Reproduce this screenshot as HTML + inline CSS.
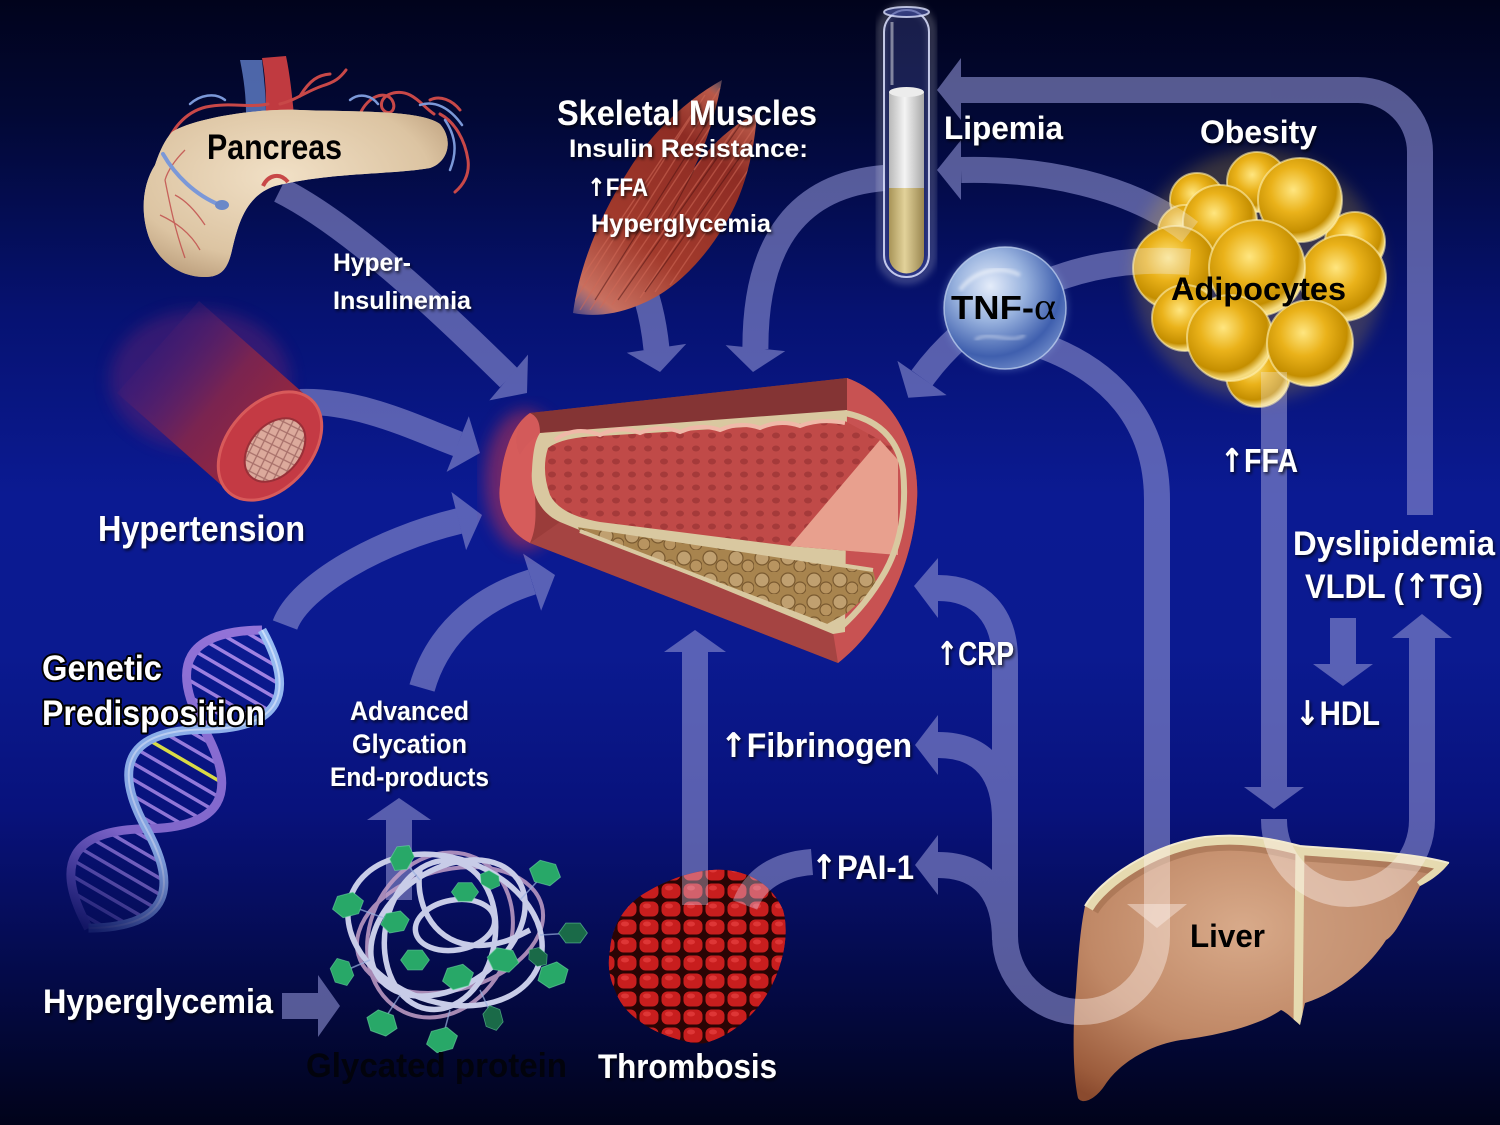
<!DOCTYPE html>
<html><head><meta charset="utf-8">
<style>
html,body{margin:0;padding:0;background:#01031c;width:1500px;height:1125px;overflow:hidden}
svg{display:block}
.t{font-family:"Liberation Sans",Arial,sans-serif;font-weight:bold;fill:#fff}
.k{fill:#000}
.ar{font-family:"DejaVu Sans",sans-serif;font-weight:bold}
</style></head><body>
<svg width="1500" height="1125" viewBox="0 0 1500 1125" xmlns="http://www.w3.org/2000/svg">
<defs>
 <linearGradient id="bg" x1="0" y1="0" x2="0" y2="1">
  <stop offset="0" stop-color="#01031c"/>
  <stop offset=".1" stop-color="#020834"/>
  <stop offset=".28" stop-color="#061272"/>
  <stop offset=".44" stop-color="#0b1a92"/>
  <stop offset=".58" stop-color="#0b1a90"/>
  <stop offset=".72" stop-color="#08127c"/>
  <stop offset=".87" stop-color="#040a48"/>
  <stop offset="1" stop-color="#01031a"/>
 </linearGradient>
 <filter id="sh" x="-10%" y="-20%" width="120%" height="150%"><feDropShadow dx="1.5" dy="2" stdDeviation="1.5" flood-color="#000" flood-opacity=".75"/></filter>
 <filter id="blur8"><feGaussianBlur stdDeviation="8"/></filter>
 <filter id="blur4"><feGaussianBlur stdDeviation="4"/></filter>
 <filter id="blur2"><feGaussianBlur stdDeviation="1.5"/></filter>
 <radialGradient id="panc" cx=".45" cy=".4" r=".7">
  <stop offset="0" stop-color="#f1e0c6"/><stop offset=".7" stop-color="#dcc4a2"/><stop offset="1" stop-color="#b89a78"/>
 </radialGradient>
 <pattern id="pancTex" width="16" height="14" patternUnits="userSpaceOnUse">
  <ellipse cx="5" cy="5" rx="4.5" ry="3.5" fill="none" stroke="#b39774" stroke-opacity=".45" stroke-width="1.2"/>
  <ellipse cx="13" cy="11" rx="4" ry="3" fill="none" stroke="#b39774" stroke-opacity=".45" stroke-width="1.2"/>
 </pattern>
 <linearGradient id="musc" x1="573" y1="313" x2="740" y2="90" gradientUnits="userSpaceOnUse">
  <stop offset="0" stop-color="#e8b0a0" stop-opacity=".3"/><stop offset=".1" stop-color="#c87060"/><stop offset=".35" stop-color="#a23a2c"/><stop offset=".75" stop-color="#8e2c24"/><stop offset=".93" stop-color="#b85848"/><stop offset="1" stop-color="#e0b0a0" stop-opacity=".2"/>
 </linearGradient>
 <linearGradient id="tubeBody" x1="300" y1="450" x2="150" y2="330" gradientUnits="userSpaceOnUse">
  <stop offset="0" stop-color="#a02838"/><stop offset=".5" stop-color="#7a2450"/><stop offset="1" stop-color="#5a2070" stop-opacity="0"/>
 </linearGradient>
 <pattern id="mesh" width="12" height="12" patternUnits="userSpaceOnUse" patternTransform="rotate(30)">
  <rect width="12" height="12" fill="#dcaa9c"/>
  <path d="M0 0L12 12M12 0L0 12" stroke="#a8706a" stroke-width="1.3"/>
 </pattern>
 <pattern id="lum" width="16" height="13" patternUnits="userSpaceOnUse">
  <rect width="16" height="13" fill="#c04a48"/>
  <ellipse cx="8" cy="6.5" rx="4" ry="3" fill="#8e2e30" opacity=".55"/>
 </pattern>
 <pattern id="plq" width="26" height="22" patternUnits="userSpaceOnUse">
  <rect width="26" height="22" fill="#a8844e"/>
  <circle cx="8" cy="8" r="7" fill="#c0a070" stroke="#7a5a30" stroke-width="1.2"/>
  <circle cx="20" cy="16" r="6" fill="#b89460" stroke="#7a5a30" stroke-width="1.2"/>
 </pattern>
 <pattern id="thr" width="22" height="18" patternUnits="userSpaceOnUse">
  <rect width="22" height="18" fill="#2a0404"/>
  <rect x="1.5" y="1.5" width="19" height="15" rx="6" fill="#c81e1e"/>
  <ellipse cx="9" cy="6" rx="4" ry="2.5" fill="#e84040" opacity=".7"/>
 </pattern>
 <radialGradient id="thrShade" cx=".45" cy=".4" r=".65">
  <stop offset="0" stop-color="#000" stop-opacity="0"/><stop offset=".8" stop-color="#000" stop-opacity=".25"/><stop offset="1" stop-color="#000" stop-opacity=".55"/>
 </radialGradient>
 <radialGradient id="gold" cx=".42" cy=".38" r=".6">
  <stop offset="0" stop-color="#ffe680"/><stop offset=".45" stop-color="#eab21a"/><stop offset=".85" stop-color="#c48e00"/><stop offset="1" stop-color="#f6dc80"/>
 </radialGradient>
 <radialGradient id="tnf" cx=".38" cy=".32" r=".72">
  <stop offset="0" stop-color="#e4ecfa"/><stop offset=".4" stop-color="#98b2de"/><stop offset=".8" stop-color="#3f5fae"/><stop offset="1" stop-color="#6a86c6"/>
 </radialGradient>
 <radialGradient id="liv" cx=".45" cy=".35" r=".75">
  <stop offset="0" stop-color="#d8aa8a"/><stop offset=".55" stop-color="#c08866"/><stop offset=".9" stop-color="#9c5c3c"/><stop offset="1" stop-color="#8a4a2e"/>
 </radialGradient>
 <linearGradient id="wht" x1="0" x2="1"><stop offset="0" stop-color="#b8b8b8"/><stop offset=".45" stop-color="#f4f4f4"/><stop offset="1" stop-color="#a8a8a8"/></linearGradient>
 <linearGradient id="yel" x1="0" x2="1"><stop offset="0" stop-color="#a89458"/><stop offset=".45" stop-color="#e2d29a"/><stop offset="1" stop-color="#9a8650"/></linearGradient>
 <linearGradient id="dnaFade" x1="0" y1="0" x2="345" y2="0" gradientUnits="userSpaceOnUse">
  <stop offset="0" stop-color="#fff" stop-opacity="1"/><stop offset=".7" stop-color="#fff" stop-opacity=".85"/><stop offset="1" stop-color="#fff" stop-opacity=".1"/>
 </linearGradient>
 <mask id="dnaMask" maskUnits="userSpaceOnUse" x="-20" y="-80" width="400" height="160"><rect x="-20" y="-80" width="400" height="160" fill="url(#dnaFade)"/></mask>
 <clipPath id="dnaClip"><path d="M0,0 Q57.5,-96 115,0 Q172.5,96 230,0 Q287.5,-96 345,0 Q287.5,96 230,0 Q172.5,-96 115,0 Q57.5,96 0,0Z"/></clipPath>
 <clipPath id="liverClip"><path id="liverP" d="M1085,906 C1100,880 1150,845 1205,837 C1240,833 1270,838 1300,846 C1350,850 1410,852 1449,863 C1440,875 1428,882 1420,886 C1405,915 1395,935 1386,940 C1370,965 1340,992 1305,1003 L1300,1025 C1292,1018 1286,1012 1281,1010 C1260,1025 1220,1035 1181,1040 C1150,1045 1120,1062 1105,1085 C1095,1100 1082,1105 1078,1098 C1072,1070 1073,1020 1076,990 C1078,960 1080,930 1085,906Z"/></clipPath>
 <clipPath id="thrClip"><path d="M610,950 C612,925 625,905 645,893 C670,878 700,868 725,870 C750,872 772,885 783,910 C790,935 782,965 772,985 C760,1010 735,1035 705,1043 C690,1045 660,1035 645,1025 C630,1015 620,1005 615,990 C608,975 608,962 610,950Z"/></clipPath>
 <clipPath id="adiClip">
  <circle cx="1258" cy="375" r="32"/><circle cx="1197" cy="200" r="27"/><circle cx="1185" cy="232" r="27"/><circle cx="1257" cy="182" r="30"/><circle cx="1355" cy="242" r="30"/><circle cx="1300" cy="200" r="42"/><circle cx="1220" cy="222" r="37"/><circle cx="1343" cy="278" r="43"/><circle cx="1175" cy="268" r="42"/><circle cx="1185" cy="318" r="33"/><circle cx="1257" cy="268" r="48"/><circle cx="1230" cy="338" r="43"/><circle cx="1310" cy="343" r="43"/>
 </clipPath>
 <clipPath id="muscClip"><path id="muscP" d="M573,313 C580,262 602,212 630,168 C655,128 690,98 722,80 C716,112 706,145 694,168 C710,146 732,125 757,113 C754,158 742,198 724,226 C706,256 680,285 650,300 C624,313 598,318 573,313Z"/></clipPath>
 <polygon id="hex" points="-16,0 -8,-11 8,-11 16,0 8,11 -8,11"/>
</defs>

<!-- background -->
<rect width="1500" height="1125" fill="url(#bg)"/>

<!-- ARROWS -->
<g opacity=".62">
 <g fill="none" stroke="#8a8dce" stroke-width="26">
  <path d="M280,190 C350,225 440,310 509,378"/>
  <path d="M300,402 C360,400 415,428 458,444"/>
  <path d="M285,625 C300,585 380,540 459,521"/>
  <path d="M422,688 C440,625 490,595 532,582"/>
  <path d="M638,275 Q652,305 656.5,349"/>
  <path d="M884,178 C800,185 755,240 755.4,349"/>
  <path d="M1420,515 L1420,152 A62,62 0 0 0 1358,90 L961,90"/>
  <path d="M1190,232 C1130,185 1040,168 961,170"/>
  <path d="M1190,262 C1050,250 960,325 922,378"/>
  <path d="M1040,345 C1110,370 1157,420 1157,500 L1157,905"/>
  <path d="M1157,936 A76,76 0 0 1 1005,936 L1005,660 C1005,615 980,588 938,588"/>
  <path d="M938,745 C985,745 1005,775 1005,820"/>
  <path d="M938,865 C985,865 1005,895 1005,940"/>
  <path d="M745,905 Q760,866 812,862"/>
  <path d="M695,905 L695,651"/>
  <path d="M1274,372 L1274,788"/>
  <path d="M1274,819 L1274,820 A74,74 0 0 0 1422,820 L1422,637"/>
  <path d="M1343,618 L1343,665"/>
  <path d="M282,1006 L319,1006"/>
  <path d="M399,900 L399,819"/>
 </g>
 <g fill="#8a8dce">
  <polygon points="528,354.6 527,393 489.3,400.4"/>
  <polygon points="468.8,416.3 480,453 446.6,471.9"/>
  <polygon points="451.3,491.9 482,515 466.1,550.1"/>
  <polygon points="523.1,553.6 555,575 541.1,610.8"/>
  <polygon points="626.8,352.7 660,372 686.2,343.9"/>
  <polygon points="725.6,345.1 753,372 785.2,351.1"/>
  <polygon points="961,58 937,90 961,120"/>
  <polygon points="961,140 937,170 961,200"/>
  <polygon points="946.6,395.1 908.3,397.7 897.4,360.9"/>
  <polygon points="1127,904 1157,928 1187,904"/>
  <polygon points="938,558 914,586 938,618"/>
  <polygon points="938,715 915,745 938,775"/>
  <polygon points="938,835 915,865 938,895"/>
  <polygon points="664,652 695,630 726,652"/>
  <polygon points="1244,787 1274,809 1304,787"/>
  <polygon points="1392,638 1422,614 1452,638"/>
  <polygon points="1313,664 1343,686 1373,664"/>
  <polygon points="318,975 340,1006 318,1037"/>
  <polygon points="367,820 399,798 431,820"/>
 </g>
</g>

<!-- PANCREAS vessels behind -->
<g>
 <path d="M240,60 C244,80 246,96 246,115 L266,115 C266,95 264,78 262,60Z" fill="#5a78c0" opacity=".85"/>
 <path d="M262,58 C266,80 266,96 266,115 L294,115 C292,95 290,75 286,56Z" fill="#c03a40"/>
 <g fill="none" stroke="#c84848" stroke-width="3" stroke-linecap="round">
  <path d="M163,154 C170,130 185,112 206,107 C230,102 250,108 268,104"/>
  <path d="M280,104 C296,100 305,92 322,86 C335,82 340,78 346,70"/>
  <path d="M300,96 C310,80 318,75 330,74"/>
  <path d="M360,114 C368,96 385,90 392,100 C398,110 388,118 382,108 C378,96 396,88 410,95 C420,100 425,108 434,114"/>
  <path d="M440,114 C455,122 465,140 468,160 C470,176 462,186 455,192"/>
  <path d="M430,100 C440,95 452,100 460,110"/>
 </g>
 <g fill="none" stroke="#7b98d8" stroke-width="2.5" stroke-linecap="round">
  <path d="M190,104 C200,95 215,92 225,100"/>
  <path d="M420,105 C435,100 450,108 462,125"/>
  <path d="M445,120 C455,135 458,150 450,170"/>
  <path d="M350,100 C360,92 372,96 378,104"/>
 </g>
</g>
<!-- PANCREAS -->
<g>
 <path id="pancP" d="M172,132 C190,120 250,108 300,110 C360,112 420,110 440,124 C454,140 448,162 430,168 C390,175 330,172 275,186 C245,196 238,225 232,250 C228,268 222,277 205,277 C180,277 160,262 150,240 C140,215 142,185 155,165 C160,150 165,140 172,132Z" fill="url(#panc)"/>
 <use href="#pancP" fill="url(#pancTex)"/>
 <g fill="none" stroke="#c04848" stroke-width="1.3" opacity=".8">
  <path d="M165,180 C170,205 175,230 185,258"/><path d="M160,215 C175,222 190,232 200,250"/><path d="M175,195 C185,200 195,210 205,225"/><path d="M185,150 C175,160 168,170 165,180"/>
 </g>
 <path d="M163,154 C175,175 195,195 220,205" fill="none" stroke="#7b98d8" stroke-width="4" stroke-linecap="round"/>
 <ellipse cx="222" cy="205" rx="7" ry="5" fill="#6a88c8"/>
 <path d="M263,186 C268,175 280,172 288,182" fill="none" stroke="#c84848" stroke-width="4"/>
</g>

<!-- MUSCLE -->
<g>
 <use href="#muscP" fill="url(#musc)"/>
 <g clip-path="url(#muscClip)" stroke="#d06a58" stroke-width="1.4" opacity=".55" fill="none">
  <path d="M580,310 L720,88"/><path d="M590,310 L728,100"/><path d="M600,308 L735,110"/><path d="M612,305 L742,118"/><path d="M625,302 L750,120"/><path d="M640,298 L756,125"/><path d="M575,300 L705,95"/><path d="M580,280 L698,105"/><path d="M655,292 L750,150"/><path d="M670,285 L755,160"/>
 </g>
 <g clip-path="url(#muscClip)" stroke="#4a1010" stroke-width="1.2" opacity=".5" fill="none">
  <path d="M595,300 L715,110"/><path d="M618,300 L740,125"/><path d="M645,292 L752,140"/><path d="M694,170 L662,230"/>
 </g>
</g>

<!-- HYPERTENSION tube -->
<g>
 <ellipse cx="200" cy="380" rx="90" ry="70" fill="#6a2270" opacity=".45" filter="url(#blur8)"/>
 <polygon points="311,400 229,492 117,393 199,301" fill="url(#tubeBody)"/>
 <ellipse cx="270" cy="446" rx="62" ry="42" transform="rotate(-48.6 270 446)" fill="#c43a44"/>
 <ellipse cx="270" cy="446" rx="62" ry="42" transform="rotate(-48.6 270 446)" fill="none" stroke="#d85a5a" stroke-width="3"/>
 <ellipse cx="275" cy="450" rx="36" ry="25" transform="rotate(-48.6 275 450)" fill="url(#mesh)"/>
 <ellipse cx="275" cy="450" rx="36" ry="25" transform="rotate(-48.6 275 450)" fill="none" stroke="#9a3038" stroke-width="2"/>
</g>

<!-- ARTERY -->
<g>
 <ellipse cx="525" cy="480" rx="40" ry="70" fill="#c03050" opacity=".55" filter="url(#blur8)"/>
 <path d="M530,413 L847,378 C895,395 920,450 917,500 C913,570 880,630 838,663 L530,543 C505,530 497,505 500,485 C502,455 512,425 530,413Z" fill="#9a3c3a"/>
 <path d="M530,413 L847,378 L847,412 L545,432 C535,436 525,445 520,455 C512,440 518,420 530,413Z" fill="#843434"/>
 <path d="M500,485 C502,455 512,425 530,413 C545,420 540,440 535,470 C533,500 540,520 530,543 C505,530 497,505 500,485Z" fill="#e06262" opacity=".85"/>
 <path d="M530,543 L838,663 L840,630 L560,522Z" fill="#a54442"/>
 <path d="M847,378 C895,395 920,450 917,500 C913,570 880,630 838,663 L833,632 L847,412Z" fill="#c85252"/>
 <path d="M540,433 L847,410 L845,632 L833,634 L560,522 C538,512 530,490 532,470 C533,452 535,440 540,433Z" fill="#d9c8a0"/>
 <path d="M548,448 Q562,437 600,436 L845,421 L893,447 L898,555 L790,546 L600,522 Q560,515 550,495 Q541,470 548,448Z" fill="url(#lum)"/>
 <path d="M880,440 L898,460 L898,555 L790,546Z" fill="#e8a08e"/>
 <path d="M555,440 Q575,425 600,435 Q620,425 640,433 Q660,424 680,432 Q700,423 720,430 Q740,421 760,428 Q780,419 800,426 Q820,418 845,423" fill="none" stroke="#f0b8a8" stroke-width="4"/>
 <path d="M577,525 L873,570 L877,587 L847,613 L827,624 L580,532Z" fill="url(#plq)"/>
 <path d="M577,525 L873,570" stroke="#d9c8a0" stroke-width="4"/>
 <path d="M580,531 L827,626" stroke="#d9c8a0" stroke-width="4"/>
 <path d="M845,413 C880,420 898,440 903,470 C907,510 900,545 885,572 C872,595 858,612 840,628" fill="none" stroke="#d9c8a0" stroke-width="6"/>
</g>

<!-- TEST TUBE -->
<g>
 <rect x="881" y="7" width="51" height="273" rx="25" fill="none" stroke="#ffffff" stroke-width="6" opacity=".3" filter="url(#blur4)"/>
 <rect x="884" y="10" width="45" height="267" rx="22" fill="#5a66b8" fill-opacity=".28"/>
 <path d="M889,92 L924,92 L924,188 L889,188Z" fill="url(#wht)"/>
 <ellipse cx="906.5" cy="92" rx="17.5" ry="5" fill="#ececec"/>
 <path d="M889,188 L924,188 L924,256 A17.5,17.5 0 0 1 889,256Z" fill="url(#yel)"/>
 <rect x="884" y="10" width="45" height="267" rx="22" fill="none" stroke="#dde2ff" stroke-opacity=".85" stroke-width="2"/>
 <ellipse cx="906.5" cy="12" rx="22.5" ry="5" fill="#3a4698" fill-opacity=".6" stroke="#dde2ff" stroke-opacity=".8" stroke-width="2"/>
 <line x1="892" y1="22" x2="892" y2="85" stroke="#fff" stroke-opacity=".45" stroke-width="3"/>
</g>

<!-- TNF ball -->
<g>
 <circle cx="1005" cy="308" r="62" fill="#8aa8e0" opacity=".4" filter="url(#blur4)"/>
 <circle cx="1005" cy="308" r="61" fill="url(#tnf)"/>
 <path d="M960,290 C975,270 1000,265 1020,275" stroke="#fff" stroke-width="4" fill="none" opacity=".5" filter="url(#blur2)"/>
 <path d="M975,340 C990,330 1010,345 1025,335" stroke="#fff" stroke-width="3" fill="none" opacity=".4" filter="url(#blur2)"/>
 <circle cx="1005" cy="308" r="61" fill="none" stroke="#c8d8f4" stroke-width="1.5" opacity=".7"/>
</g>

<!-- ADIPOCYTES -->
<g stroke="#fff0b0" stroke-opacity=".6" stroke-width="2">
 <circle cx="1258" cy="275" r="125" fill="#f0c020" opacity=".22" stroke="none" filter="url(#blur8)"/>
 <circle cx="1258" cy="375" r="32" fill="url(#gold)"/>
 <circle cx="1197" cy="200" r="27" fill="url(#gold)"/>
 <circle cx="1185" cy="232" r="27" fill="url(#gold)"/>
 <circle cx="1257" cy="182" r="30" fill="url(#gold)"/>
 <circle cx="1355" cy="242" r="30" fill="url(#gold)"/>
 <circle cx="1300" cy="200" r="42" fill="url(#gold)"/>
 <circle cx="1220" cy="222" r="37" fill="url(#gold)"/>
 <circle cx="1343" cy="278" r="43" fill="url(#gold)"/>
 <circle cx="1175" cy="268" r="42" fill="url(#gold)"/>
 <circle cx="1185" cy="318" r="33" fill="url(#gold)"/>
 <circle cx="1257" cy="268" r="48" fill="url(#gold)"/>
 <circle cx="1230" cy="338" r="43" fill="url(#gold)"/>
 <circle cx="1310" cy="343" r="43" fill="url(#gold)"/>
</g>
<g clip-path="url(#adiClip)" fill="none" stroke="#f0f0ff" stroke-opacity=".3" stroke-width="26">
 <path d="M1190,232 C1130,185 1040,168 961,170"/>
 <path d="M1190,262 C1050,250 960,325 922,378"/>
 <path d="M1274,372 L1274,420"/>
</g>

<!-- DNA -->
<g transform="translate(262,630) rotate(120.2)" mask="url(#dnaMask)">
 <g clip-path="url(#dnaClip)" stroke="#a384e4" stroke-width="3.5">
  <line x1="10" y1="-60" x2="10" y2="60"/><line x1="24" y1="-60" x2="24" y2="60"/><line x1="38" y1="-60" x2="38" y2="60"/><line x1="52" y1="-60" x2="52" y2="60"/><line x1="66" y1="-60" x2="66" y2="60"/><line x1="80" y1="-60" x2="80" y2="60"/><line x1="94" y1="-60" x2="94" y2="60"/><line x1="108" y1="-60" x2="108" y2="60"/>
  <line x1="124" y1="-60" x2="124" y2="60"/><line x1="138" y1="-60" x2="138" y2="60"/><line x1="166" y1="-60" x2="166" y2="60"/><line x1="180" y1="-60" x2="180" y2="60"/><line x1="194" y1="-60" x2="194" y2="60"/><line x1="208" y1="-60" x2="208" y2="60"/><line x1="222" y1="-60" x2="222" y2="60"/>
  <line x1="238" y1="-60" x2="238" y2="60"/><line x1="252" y1="-60" x2="252" y2="60"/><line x1="266" y1="-60" x2="266" y2="60"/><line x1="280" y1="-60" x2="280" y2="60"/><line x1="294" y1="-60" x2="294" y2="60"/><line x1="308" y1="-60" x2="308" y2="60"/><line x1="322" y1="-60" x2="322" y2="60"/><line x1="336" y1="-60" x2="336" y2="60"/>
  <line x1="152" y1="-60" x2="152" y2="60" stroke="#f0f040"/>
 </g>
 <path d="M0,0 Q57.5,96 115,0 T230,0 T345,0" fill="none" stroke="#9474d8" stroke-width="9"/>
 <path d="M0,0 Q57.5,-96 115,0 T230,0 T345,0" fill="none" stroke="#98bcf2" stroke-width="9"/>
 <path d="M0,0 Q57.5,-96 115,0 T230,0 T345,0" fill="none" stroke="#e0ecff" stroke-width="2" opacity=".7"/>
</g>

<!-- GLYCATED PROTEIN -->
<g fill="none">
 <g stroke="#c4a0c8" stroke-width="4" opacity=".85">
  <ellipse cx="450" cy="930" rx="95" ry="60" transform="rotate(-15 450 930)"/>
  <ellipse cx="440" cy="935" rx="70" ry="85" transform="rotate(25 440 935)"/>
 </g>
 <g stroke="#c8cce8" stroke-width="5.5">
  <ellipse cx="445" cy="930" rx="100" ry="72" transform="rotate(20 445 930)"/>
  <ellipse cx="448" cy="928" rx="85" ry="58" transform="rotate(-35 448 928)"/>
  <ellipse cx="440" cy="935" rx="55" ry="75" transform="rotate(10 440 935)"/>
  <ellipse cx="455" cy="925" rx="40" ry="25" transform="rotate(-10 455 925)"/>
  <path d="M420,870 C415,900 430,940 470,945 C500,948 520,935 530,930"/>
 </g>
 <g stroke="#9ab0e0" stroke-width="1.5" opacity=".7">
  <path d="M348,905 L395,922 M545,873 L520,900 M573,933 L540,935 M342,972 L370,960 M382,1023 L400,995 M493,1018 L480,990 M442,1040 L450,1010 M402,858 L420,880"/>
 </g>
</g>
<g fill="#28a868" stroke="#6ad8a0" stroke-width="1" stroke-opacity=".6">
 <use href="#hex" transform="translate(402,858) rotate(-60) scale(.9)"/>
 <use href="#hex" transform="translate(348,905) rotate(-15)"/>
 <use href="#hex" transform="translate(545,873) rotate(15)"/>
 <use href="#hex" transform="translate(465,892) scale(.85)"/>
 <use href="#hex" transform="translate(490,880) rotate(30) scale(.7)"/>
 <use href="#hex" transform="translate(395,922) rotate(-10) scale(.9)"/>
 <use href="#hex" transform="translate(573,933) scale(.9)" fill="#1a6a48"/>
 <use href="#hex" transform="translate(342,972) rotate(70) scale(.9)"/>
 <use href="#hex" transform="translate(415,960) scale(.9)"/>
 <use href="#hex" transform="translate(458,977) rotate(-15)"/>
 <use href="#hex" transform="translate(503,960) rotate(10)"/>
 <use href="#hex" transform="translate(538,957) rotate(40) scale(.7)" fill="#1a6a48"/>
 <use href="#hex" transform="translate(553,975) rotate(-20)"/>
 <use href="#hex" transform="translate(382,1023) rotate(20)"/>
 <use href="#hex" transform="translate(493,1018) rotate(75) scale(.8)" fill="#1a6a48"/>
 <use href="#hex" transform="translate(442,1040) rotate(-15)"/>
</g>

<!-- THROMBUS -->
<g>
 <path id="thrP" d="M610,950 C612,925 625,905 645,893 C670,878 700,868 725,870 C750,872 772,885 783,910 C790,935 782,965 772,985 C760,1010 735,1035 705,1043 C690,1045 660,1035 645,1025 C630,1015 620,1005 615,990 C608,975 608,962 610,950Z" fill="url(#thr)"/>
 <use href="#thrP" fill="url(#thrShade)"/>
 <g clip-path="url(#thrClip)" fill="none" stroke="#e8e0ff" stroke-opacity=".35" stroke-width="26">
  <path d="M695,905 L695,860"/>
  <path d="M745,905 Q760,866 812,862"/>
 </g>
</g>

<!-- LIVER -->
<g>
 <use href="#liverP" fill="url(#liv)"/>
 <g clip-path="url(#liverClip)">
  <path d="M1300,846 C1350,850 1410,852 1449,863 L1420,886 C1405,915 1395,935 1386,940 C1370,965 1340,992 1305,1003 L1300,846Z" fill="#c8987a" opacity=".5"/>
  <path d="M1085,906 C1100,880 1150,845 1205,837 C1240,833 1270,838 1300,846 C1350,850 1410,852 1449,863" fill="none" stroke="#8a5a3a" stroke-width="30" opacity=".35"/>
  <path d="M1085,906 C1100,880 1150,845 1205,837 C1240,833 1270,838 1300,846 C1350,850 1410,852 1449,863" fill="none" stroke="#e6dab0" stroke-width="18"/>
  <path d="M1449,863 L1420,886" stroke="#e6dab0" stroke-width="10"/>
  <path d="M1300,846 L1298,1025" stroke="#e6dab0" stroke-width="9"/>
  <g fill="none" stroke="#fff4ee" stroke-opacity=".42" stroke-width="26">
   <path d="M1157,840 L1157,905"/>
   <path d="M1157,936 A76,76 0 0 1 1005,936"/>
   <path d="M1274,819 L1274,820 A74,74 0 0 0 1422,820 L1422,760"/>
   <path d="M1157,905 L1157,936"/>
  </g>
  <polygon points="1127,904 1157,928 1187,904" fill="#fff4ee" fill-opacity=".42"/>
 </g>
 <path d="M1085,906 C1100,880 1150,845 1205,837 C1240,833 1270,838 1300,846 C1350,850 1410,852 1449,863" fill="none" stroke="#f2ead0" stroke-width="2"/>
</g>

<!-- TEXT -->
<g class="t" filter="url(#sh)">
 <text x="557" y="125" font-size="35" textLength="260" lengthAdjust="spacingAndGlyphs">Skeletal Muscles</text>
 <text x="569" y="157" font-size="25" textLength="239" lengthAdjust="spacingAndGlyphs">Insulin Resistance:</text>
 <text x="587" y="196" font-size="25" textLength="61" lengthAdjust="spacingAndGlyphs"><tspan class="ar">↑</tspan>FFA</text>
 <text x="591" y="232" font-size="25" textLength="180" lengthAdjust="spacingAndGlyphs">Hyperglycemia</text>
 <text x="333" y="271" font-size="25" textLength="78" lengthAdjust="spacingAndGlyphs">Hyper-</text>
 <text x="333" y="309" font-size="25" textLength="138" lengthAdjust="spacingAndGlyphs">Insulinemia</text>
 <text x="944" y="139" font-size="32" textLength="119" lengthAdjust="spacingAndGlyphs">Lipemia</text>
 <text x="1200" y="143" font-size="32" textLength="117" lengthAdjust="spacingAndGlyphs">Obesity</text>
 <text x="1220" y="472" font-size="33" textLength="78" lengthAdjust="spacingAndGlyphs"><tspan class="ar">↑</tspan>FFA</text>
 <text x="1293" y="555" font-size="34" textLength="202" lengthAdjust="spacingAndGlyphs">Dyslipidemia</text>
 <text x="1305" y="598" font-size="34" textLength="178" lengthAdjust="spacingAndGlyphs">VLDL (<tspan class="ar">↑</tspan>TG)</text>
 <text x="1295" y="725" font-size="34" textLength="85" lengthAdjust="spacingAndGlyphs"><tspan class="ar">↓</tspan>HDL</text>
 <text x="936" y="665" font-size="33" textLength="78" lengthAdjust="spacingAndGlyphs"><tspan class="ar">↑</tspan>CRP</text>
 <text x="720" y="757" font-size="34" textLength="192" lengthAdjust="spacingAndGlyphs"><tspan class="ar">↑</tspan>Fibrinogen</text>
 <text x="811" y="879" font-size="34" textLength="103" lengthAdjust="spacingAndGlyphs"><tspan class="ar">↑</tspan>PAI-1</text>
 <text x="598" y="1078" font-size="34" textLength="179" lengthAdjust="spacingAndGlyphs">Thrombosis</text>
 <text x="43" y="1013" font-size="34" textLength="230" lengthAdjust="spacingAndGlyphs">Hyperglycemia</text>
 <text x="350" y="720" font-size="27" textLength="119" lengthAdjust="spacingAndGlyphs">Advanced</text>
 <text x="352" y="753" font-size="27" textLength="115" lengthAdjust="spacingAndGlyphs">Glycation</text>
 <text x="330" y="786" font-size="27" textLength="159" lengthAdjust="spacingAndGlyphs">End-products</text>
 <text x="98" y="541" font-size="36" textLength="207" lengthAdjust="spacingAndGlyphs">Hypertension</text>
</g>
<g class="t" stroke="#000" stroke-width="4" paint-order="stroke" stroke-linejoin="round">
 <text x="42" y="680" font-size="35" textLength="120" lengthAdjust="spacingAndGlyphs">Genetic</text>
 <text x="42" y="725" font-size="35" textLength="223" lengthAdjust="spacingAndGlyphs">Predisposition</text>
</g>
<g class="t k">
 <text x="207" y="159" font-size="35" textLength="135" lengthAdjust="spacingAndGlyphs">Pancreas</text>
 <text x="1171" y="300" font-size="32" textLength="175" lengthAdjust="spacingAndGlyphs">Adipocytes</text>
 <text x="951" y="319" font-size="33" textLength="105" lengthAdjust="spacingAndGlyphs">TNF-<tspan font-family="Liberation Serif,serif" font-weight="normal" font-size="38">α</tspan></text>
 <text x="1190" y="947" font-size="32" textLength="75" lengthAdjust="spacingAndGlyphs">Liver</text>
 <text x="306" y="1077" font-size="34" textLength="261" lengthAdjust="spacingAndGlyphs" fill="#02030c">Glycated protein</text>
</g>
</svg>
</body></html>
